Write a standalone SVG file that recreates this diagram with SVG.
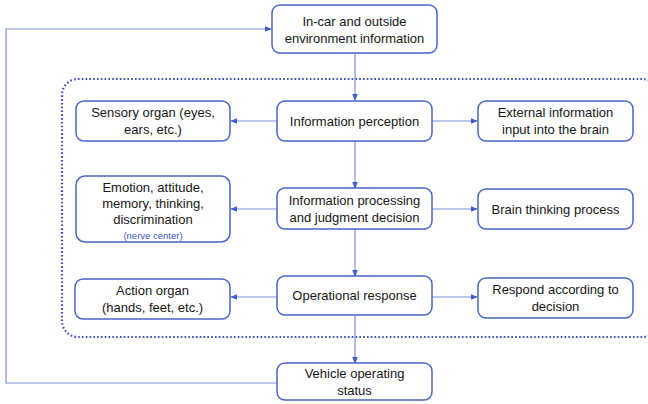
<svg xmlns="http://www.w3.org/2000/svg" width="648" height="404" viewBox="0 0 648 404">
  <style>
    .box { fill: #ffffff; stroke: #4a66c8; stroke-width: 1.5; }
    .lbl { font-family: "Liberation Sans", Arial, sans-serif; font-size: 13px; fill: #161616; text-anchor: middle; }
    .note { font-family: "Liberation Sans", Arial, sans-serif; font-size: 9.5px; fill: #3a58d0; text-anchor: middle; }
    .link { fill: none; stroke: #7d90dc; stroke-width: 1.2; }
    .frame { fill: none; stroke: #3550c8; stroke-width: 2.2; stroke-dasharray: 1.6 2.2; }
  </style>
  <defs>
    <marker id="arrow" viewBox="0 0 8 8" refX="7" refY="4" markerWidth="7" markerHeight="7" markerUnits="userSpaceOnUse" orient="auto">
      <path d="M0,0.8 L8,4 L0,7.2 Z" fill="#3f5cc4"/>
    </marker>
  </defs>

  <rect width="648" height="404" fill="#ffffff"/>

  <!-- dotted boundary of the driver's internal loop -->
  <rect class="frame" x="62" y="79" width="596" height="258" rx="16"/>

  <g id="connectors">
    <path class="link" d="M355,54 V100" marker-end="url(#arrow)"/>
    <path class="link" d="M277,121 H231" marker-end="url(#arrow)"/>
    <path class="link" d="M432,121 H477" marker-end="url(#arrow)"/>
    <path class="link" d="M355,141 V188" marker-end="url(#arrow)"/>
    <path class="link" d="M277,209 H231" marker-end="url(#arrow)"/>
    <path class="link" d="M432,209 H477" marker-end="url(#arrow)"/>
    <path class="link" d="M355,229 V276" marker-end="url(#arrow)"/>
    <path class="link" d="M277,297 H231" marker-end="url(#arrow)"/>
    <path class="link" d="M432,297 H477" marker-end="url(#arrow)"/>
    <path class="link" d="M355,315 V363" marker-end="url(#arrow)"/>
    <path class="link" d="M277,383 H6 V29 H271" marker-end="url(#arrow)"/>
  </g>

  <g id="environment">
    <rect class="box" x="272" y="5" width="165" height="48" rx="8"/>
    <text class="lbl" x="354.5" y="25.5">In-car and outside</text>
    <text class="lbl" x="354.5" y="42.5">environment information</text>
  </g>

  <g id="sensory-organ">
    <rect class="box" x="76" y="101" width="154" height="40" rx="8"/>
    <text class="lbl" x="153" y="117">Sensory organ (eyes,</text>
    <text class="lbl" x="153" y="134">ears, etc.)</text>
  </g>

  <g id="perception">
    <rect class="box" x="277" y="101" width="155" height="40" rx="8"/>
    <text class="lbl" x="354.5" y="125.5">Information perception</text>
  </g>

  <g id="external-input">
    <rect class="box" x="478" y="101" width="155" height="40" rx="8"/>
    <text class="lbl" x="555.5" y="117">External information</text>
    <text class="lbl" x="555.5" y="134">input into the brain</text>
  </g>

  <g id="nerve-center">
    <rect class="box" x="76" y="176" width="154" height="66" rx="9"/>
    <text class="lbl" x="153" y="191.5">Emotion, attitude,</text>
    <text class="lbl" x="153" y="207.5">memory, thinking,</text>
    <text class="lbl" x="153" y="223.5">discrimination</text>
    <text class="note" x="153" y="238.5">(nerve center)</text>
  </g>

  <g id="processing">
    <rect class="box" x="277" y="188" width="155" height="41" rx="8"/>
    <text class="lbl" x="354.5" y="204.5">Information processing</text>
    <text class="lbl" x="354.5" y="221.5">and judgment decision</text>
  </g>

  <g id="brain-thinking">
    <rect class="box" x="478" y="189" width="155" height="40" rx="8"/>
    <text class="lbl" x="555.5" y="213.5">Brain thinking process</text>
  </g>

  <g id="action-organ">
    <rect class="box" x="75" y="279" width="155" height="40" rx="8"/>
    <text class="lbl" x="152.5" y="295">Action organ</text>
    <text class="lbl" x="152.5" y="312">(hands, feet, etc.)</text>
  </g>

  <g id="operational-response">
    <rect class="box" x="277" y="276" width="155" height="39" rx="8"/>
    <text class="lbl" x="354.5" y="300">Operational response</text>
  </g>

  <g id="respond-decision">
    <rect class="box" x="478" y="278" width="155" height="40" rx="8"/>
    <text class="lbl" x="555.5" y="294">Respond according to</text>
    <text class="lbl" x="555.5" y="311">decision</text>
  </g>

  <g id="vehicle-status">
    <rect class="box" x="277" y="363" width="155" height="37" rx="8"/>
    <text class="lbl" x="354.5" y="378">Vehicle operating</text>
    <text class="lbl" x="354.5" y="395">status</text>
  </g>
</svg>
